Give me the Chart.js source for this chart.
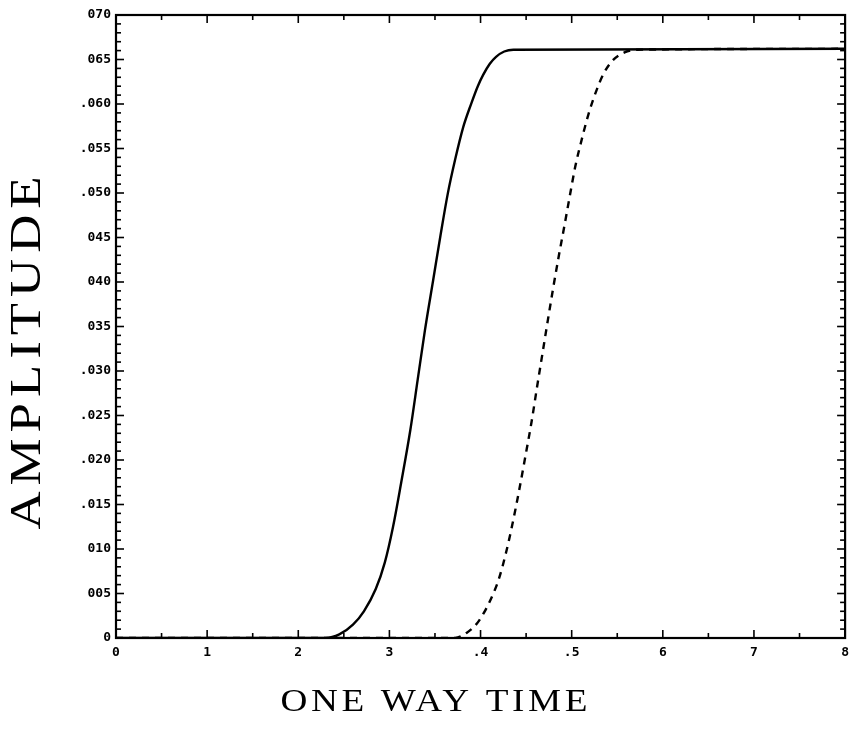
<!DOCTYPE html>
<html>
<head>
<meta charset="utf-8">
<script src="https://cdn.jsdelivr.net/npm/chart.js@4.4.1/dist/chart.umd.min.js"></script>
<style>
  html, body { margin: 0; padding: 0; background: #fff; }
  #wrap { width: 856px; height: 729px; position: relative; }
</style>
</head>
<body>
<div id="wrap"><canvas id="c"></canvas></div>
<script>
// ---- data ----
const solidX = [0, 2.30, 2.45, 2.60, 2.72, 2.85, 2.95, 3.04, 3.13, 3.23, 3.31, 3.39, 3.48, 3.56, 3.64, 3.72, 3.81, 3.90, 3.97, 4.03, 4.10, 4.17, 4.26, 4.36, 8];
const solidY = [0, 0, 0.0004, 0.0015, 0.0030, 0.0055, 0.0085, 0.0125, 0.0175, 0.0234, 0.0290, 0.0346, 0.0402, 0.0452, 0.0499, 0.0537, 0.0574, 0.0601, 0.0620, 0.0633, 0.0645, 0.0653, 0.0659, 0.0661, 0.0662];

const dashedX = [0, 3.72, 3.85, 3.95, 4.03, 4.11, 4.20, 4.28, 4.35, 4.42, 4.49, 4.56, 4.62, 4.68, 4.74, 4.80, 4.86, 4.92, 4.98, 5.04, 5.11, 5.18, 5.26, 5.35, 5.45, 5.58, 5.72, 8];
const dashedY = [0, 0, 0.0006, 0.0015, 0.0027, 0.0043, 0.0066, 0.0096, 0.0128, 0.0164, 0.0203, 0.0243, 0.0282, 0.0320, 0.0358, 0.0395, 0.0430, 0.0463, 0.0497, 0.0530, 0.0560, 0.0587, 0.0612, 0.0634, 0.0649, 0.0658, 0.0661, 0.0662];

const yTickLabels = ["0", "005", "010", ".015", ".020", ".025", ".030", "035", "040", "045", ".050", ".055", ".060", "065", "070"];
const xTickLabels = ["0", "1", "2", "3", ".4", ".5", "6", "7", "8"];

const xTitle = "ONE WAY TIME";
const yTitle = "AMPLITUDE";

const toPoints = (xs, ys) => xs.map((x, i) => ({ x: x, y: ys[i] }));

function drawSpacedText(ctx, text, cx, cy, font, stretch, spacing) {
  ctx.save();
  ctx.font = font;
  ctx.letterSpacing = spacing + 'px';
  const w = (ctx.measureText(text).width - spacing) * stretch;
  ctx.translate(cx - w / 2, cy);
  ctx.scale(stretch, 1);
  ctx.textAlign = 'left';
  ctx.textBaseline = 'middle';
  ctx.fillText(text, 0, 0);
  ctx.restore();
}

const framePlugin = {
  id: 'frame',
  afterDraw(chart) {
    const ctx = chart.ctx;
    const { left, right, top, bottom } = chart.chartArea;
    const xs = chart.scales.x, ys = chart.scales.y;
    ctx.save();
    ctx.strokeStyle = '#000';
    ctx.lineWidth = 1.6;
    const line = (x1, y1, x2, y2) => { ctx.beginPath(); ctx.moveTo(x1, y1); ctx.lineTo(x2, y2); ctx.stroke(); };
    for (let i = 0; i <= 70; i++) {
      const py = ys.getPixelForValue(i / 1000);
      const len = (i % 5 === 0) ? 8 : 5;
      line(left, py, left + len, py);
      line(right, py, right - len, py);
    }
    for (let i = 0; i <= 16; i++) {
      const px = xs.getPixelForValue(i / 2);
      const len = (i % 2 === 0) ? 8 : 5;
      line(px, bottom, px, bottom - len);
      line(px, top, px, top + len);
    }
    ctx.lineWidth = 2.2;
    ctx.strokeRect(left, top, right - left, bottom - top);

    ctx.fillStyle = '#000';
    drawSpacedText(ctx, xTitle, 434, 703, '31px "Liberation Serif", "DejaVu Serif", serif', 1.2, 3);
    ctx.save();
    ctx.translate(28, 353);
    ctx.rotate(-Math.PI / 2);
    drawSpacedText(ctx, yTitle, 0, 0, '44px "Liberation Serif", "DejaVu Serif", serif', 1.2, 5);
    ctx.restore();
    ctx.restore();
  }
};

const tickFont = { family: '"DejaVu Sans Mono", monospace', size: 13, weight: 'bold' };

new Chart(document.getElementById('c'), {
  type: 'line',
  data: {
    datasets: [
      {
        data: toPoints(solidX, solidY),
        borderColor: '#000',
        borderWidth: 2.4,
        pointRadius: 0,
        cubicInterpolationMode: 'monotone',
        fill: false
      },
      {
        data: toPoints(dashedX, dashedY),
        borderColor: '#000',
        borderWidth: 2.4,
        borderDash: [7, 6],
        pointRadius: 0,
        cubicInterpolationMode: 'monotone',
        fill: false
      }
    ]
  },
  options: {
    responsive: true,
    maintainAspectRatio: false,
    animation: false,
    events: [],
    layout: { padding: { left: 0, right: 10, top: 15, bottom: 0 } },
    plugins: { legend: { display: false }, tooltip: { enabled: false }, title: { display: false } },
    scales: {
      x: {
        type: 'linear',
        min: 0, max: 8,
        grid: { display: true, drawOnChartArea: false, drawTicks: false },
        border: { display: false },
        ticks: {
          stepSize: 1,
          padding: 7,
          color: '#000',
          font: tickFont,
          maxRotation: 0,
          callback: (v) => xTickLabels[Math.round(v)]
        },
        afterFit: (s) => { s.height = 91; }
      },
      y: {
        type: 'linear',
        min: 0, max: 0.07,
        grid: { display: true, drawOnChartArea: false, drawTicks: false },
        border: { display: false },
        ticks: {
          stepSize: 0.005,
          padding: 5,
          color: '#000',
          font: tickFont,
          callback: (v) => yTickLabels[Math.round(v / 0.005)]
        },
        afterFit: (s) => { s.width = 116; }
      }
    }
  },
  plugins: [framePlugin]
});
</script>
</body>
</html>
